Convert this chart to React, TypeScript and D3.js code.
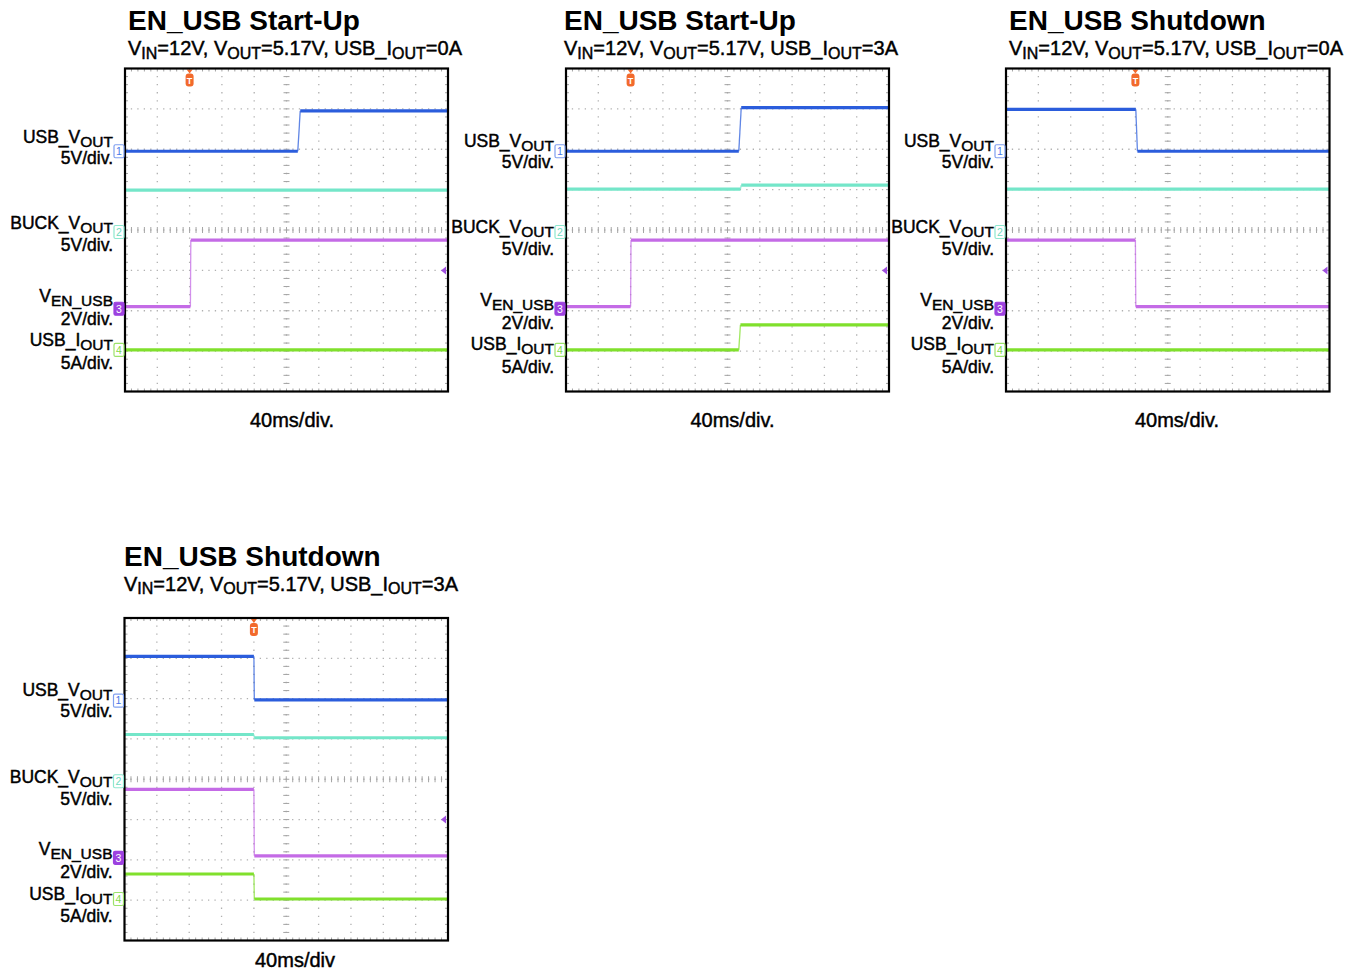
import React from "react";
import * as d3 from "d3";

// ---------- DATA ----------
const panelTitles = ["EN_USB Start-Up", "EN_USB Start-Up", "EN_USB Shutdown", "EN_USB Shutdown"];
const loadCurrents = ["0A", "3A", "0A", "3A"];
const timeLabels = ["40ms/div.", "40ms/div.", "40ms/div.", "40ms/div"];
const msPerDiv = 40;
const triggerDiv = [2, 2, 4, 4]; // trigger position (divisions from left)

const channelNames: [string, boolean][][] = [
  [["USB_V", false], ["OUT", true]],
  [["BUCK_V", false], ["OUT", true]],
  [["V", false], ["EN_USB", true]],
  [["USB_I", false], ["OUT", true]],
];
const channelScales = ["5V/div.", "5V/div.", "2V/div.", "5A/div."];
const unitsPerDiv = [5, 5, 2, 5];
const channelOffsetDiv = [1.95, -0.05, -1.95, -2.97];
const triggerLevelV = 1.9; // channel 3

// traces: [time ms relative to trigger, value]
const p1Usb = [[-80, 0], [134, 0], [137, 5.0], [320, 5.0]];
const p1Buck = [[-80, 5.2], [320, 5.2]];
const p1En = [[-80, 0.1], [1, 0.1], [1.5, 3.4], [320, 3.4]];
const p1Iout = [[-80, 0], [320, 0]];

const p2Usb = [[-80, 0], [134, 0], [137, 5.4], [320, 5.4]];
const p2Buck = [[-80, 5.3], [136, 5.3], [137, 5.8], [320, 5.8]];
const p2En = [[-80, 0.1], [0, 0.1], [0.5, 3.4], [320, 3.4]];
const p2Iout = [[-80, 0], [134, 0], [136, 3.1], [320, 3.1]];

const p3Usb = [[-160, 5.2], [0.5, 5.2], [2.5, 0], [240, 0]];
const p3Buck = [[-160, 5.3], [240, 5.3]];
const p3En = [[-160, 3.4], [0, 3.4], [0.5, 0.1], [240, 0.1]];
const p3Iout = [[-160, 0], [240, 0]];

const p4Usb = [[-160, 5.5], [0, 5.5], [0.5, 0.1], [240, 0.1]];
const p4Buck = [[-160, 5.8], [0, 5.8], [0.5, 5.4], [240, 5.4]];
const p4En = [[-160, 3.4], [0, 3.4], [0.5, 0.1], [240, 0.1]];
const p4Iout = [[-160, 3.1], [0, 3.1], [0.5, 0], [240, 0]];

const panelTraces = [
  [p1Usb, p1Buck, p1En, p1Iout],
  [p2Usb, p2Buck, p2En, p2Iout],
  [p3Usb, p3Buck, p3En, p3Iout],
  [p4Usb, p4Buck, p4En, p4Iout],
];

// ---------- STYLE / LAYOUT ----------
const traceColors = ["#2b5ddc", "#74e6c9", "#c46be6", "#80e02c"];
const markerStroke = ["#7f9ff0", "#8ee8cf", "#9d42e0", "#9be36a"];
const markerText = ["#4a78e8", "#6fdcbf", "#ffffff", "#7fd84a"];
const FONT = "'Liberation Sans', Arial, Helvetica, sans-serif";
const TEXT_STROKE = 0.45;

const layout = [
  { x: 125, y: 68.5, w: 323, h: 323, tx: 128, titleY: 30, subY: 55, timeX: 292, timeY: 427, labelDy: -4 },
  { x: 566, y: 68.5, w: 323, h: 323, tx: 564, titleY: 30, subY: 55, timeX: 732.5, timeY: 427, labelDy: 0 },
  { x: 1006, y: 68.5, w: 323.5, h: 323, tx: 1009, titleY: 30, subY: 55, timeX: 1177, timeY: 427, labelDy: 0 },
  { x: 124.5, y: 618, w: 323.5, h: 322.5, tx: 124, titleY: 566, subY: 590.5, timeX: 295, timeY: 967, labelDy: 0 },
];
const labelLine1 = [78, 164.5, 237, 281.5];
const labelLine2 = [99, 186.5, 260, 304];

function RichText(props: {
  x: number; y: number; runs: [string, boolean][]; size: number; subSize: number; subDy: number;
  anchor?: string; weight?: string | number;
}) {
  const { x, y, runs, size, subSize, subDy, anchor, weight } = props;
  let prevSub = false;
  const kids = runs.map(([t, sub], i) => {
    let dy = 0;
    if (sub && !prevSub) dy = subDy;
    else if (!sub && prevSub) dy = -subDy;
    prevSub = sub;
    return (
      <tspan key={i} dy={dy} fontSize={sub ? subSize : size}>
        {t}
      </tspan>
    );
  });
  return (
    <text x={x} y={y} textAnchor={anchor || "start"} fontFamily={FONT} fontWeight={weight || "normal"}
      fontSize={size} fill="#000" stroke="#000" strokeWidth={TEXT_STROKE}>
      {kids}
    </text>
  );
}

function Panel({ idx }: { idx: number }) {
  const L = layout[idx];
  const t0 = -triggerDiv[idx] * msPerDiv;
  const x = d3.scaleLinear().domain([t0, t0 + 10 * msPerDiv]).range([L.x, L.x + L.w]);
  const yDiv = d3.scaleLinear().domain([-4, 4]).range([L.y + L.h, L.y]);
  const colW = L.w / 10;
  const rowH = L.h / 8;

  // dotted grid
  let dots = "";
  const ds = 1.3;
  for (let i = 1; i < 10; i++) {
    const gx = L.x + i * colW;
    for (let k = 1; k < 40; k++) {
      const gy = L.y + (k * rowH) / 5;
      dots += `M${gx - ds / 2},${gy - ds / 2}h${ds}v${ds}h${-ds}z`;
    }
  }
  for (let j = 1; j < 8; j++) {
    const gy = L.y + j * rowH;
    for (let k = 1; k < 50; k++) {
      const gx = L.x + (k * colW) / 5;
      dots += `M${gx - ds / 2},${gy - ds / 2}h${ds}v${ds}h${-ds}z`;
    }
  }
  // ticks on center lines and border
  let ticks = "";
  const cx = L.x + L.w / 2;
  const cy = L.y + L.h / 2;
  for (let k = 1; k < 40; k++) {
    const gy = L.y + (k * rowH) / 5;
    ticks += `M${cx - 3},${gy}h6`;
    ticks += `M${L.x},${gy}h3M${L.x + L.w},${gy}h-3`;
  }
  for (let k = 1; k < 50; k++) {
    const gx = L.x + (k * colW) / 5;
    ticks += `M${gx},${cy - 3}v6`;
    ticks += `M${gx},${L.y}v3M${gx},${L.y + L.h}v-3`;
  }

  const traces = panelTraces[idx];
  const tx = x(0);
  const tlY = yDiv(channelOffsetDiv[2] + triggerLevelV / unitsPerDiv[2]);

  return (
    <g>
      <text x={L.tx} y={L.titleY} fontFamily={FONT} fontWeight="bold" fontSize={28} fill="#000">
        {panelTitles[idx]}
      </text>
      <RichText
        x={L.tx}
        y={L.subY}
        size={20}
        subSize={16}
        subDy={3.5}
        runs={[
          ["V", false], ["IN", true], ["=12V, V", false], ["OUT", true],
          ["=5.17V, USB_I", false], ["OUT", true], ["=" + loadCurrents[idx], false],
        ]}
      />
      <rect x={L.x} y={L.y} width={L.w} height={L.h} fill="#fff" />
      <path d={dots} fill="#b0b0b0" />
      <path d={ticks} stroke="#a4a4a4" strokeWidth={1} fill="none" />
      {traces.map((tr, c) => {
        const pts = tr.map(([t, v]) => [x(t), yDiv(channelOffsetDiv[c] + v / unitsPerDiv[c])]);
        const segs = [];
        for (let i = 0; i < pts.length - 1; i++) {
          const [xa, ya] = pts[i];
          const [xb, yb] = pts[i + 1];
          const steep = Math.abs(yb - ya) > Math.abs(xb - xa);
          segs.push(
            <line key={i} x1={xa} y1={ya} x2={xb} y2={yb} stroke={traceColors[c]}
              strokeWidth={steep ? 1.3 : 3.2} strokeOpacity={steep ? 0.75 : 1} />
          );
        }
        return <g key={c}>{segs}</g>;
      })}
      {/* trigger position marker */}
      <path d={`M${tx - 3},${L.y + 1}L${tx + 3},${L.y + 1}L${tx},${L.y + 5}Z`} fill="#f26a2c" />
      <rect x={tx - 4} y={L.y + 5} width={8} height={13} rx={3} fill="#f26a2c" />
      <text x={tx} y={L.y + 15} textAnchor="middle" fontFamily={FONT} fontWeight="bold" fontSize={9} fill="#fff">
        T
      </text>
      {/* trigger level marker */}
      <path d={`M${L.x + L.w - 2},${tlY - 4}L${L.x + L.w - 2},${tlY + 4}L${L.x + L.w - 7},${tlY}Z`} fill="#a050e0" />
      <rect x={L.x} y={L.y} width={L.w} height={L.h} fill="none" stroke="#000" strokeWidth={2.2} />
      {/* channel markers and labels */}
      {channelNames.map((runs, c) => {
        const gy = yDiv(channelOffsetDiv[c]);
        const filled = c === 2;
        const lx = L.x - 12;
        return (
          <g key={c}>
            <rect x={L.x - 11} y={gy - 6.5} width={10} height={13} rx={1.5}
              fill={filled ? markerStroke[c] : "#fff"} stroke={markerStroke[c]} strokeWidth={1.2} />
            <text x={L.x - 6} y={gy + 3.8} textAnchor="middle" fontFamily={FONT} fontSize={10.5} fill={markerText[c]}>
              {c + 1}
            </text>
            <RichText x={lx} y={L.y + labelLine1[c] + L.labelDy} runs={runs} size={17.5} subSize={15.5} subDy={4} anchor="end" />
            <text x={lx} y={L.y + labelLine2[c] + L.labelDy} textAnchor="end" fontFamily={FONT} fontSize={17.5}
              fill="#000" stroke="#000" strokeWidth={TEXT_STROKE}>
              {channelScales[c]}
            </text>
          </g>
        );
      })}
      <text x={L.timeX} y={L.timeY} textAnchor="middle" fontFamily={FONT} fontSize={20} fill="#000"
        stroke="#000" strokeWidth={TEXT_STROKE}>
        {timeLabels[idx]}
      </text>
    </g>
  );
}

export default function App() {
  return (
    <svg width={1361} height={975} style={{ position: "absolute", left: 0, top: 0, background: "#fff" }}>
      <rect x={0} y={0} width={1361} height={975} fill="#fff" />
      {[0, 1, 2, 3].map((i) => (
        <Panel key={i} idx={i} />
      ))}
    </svg>
  );
}
